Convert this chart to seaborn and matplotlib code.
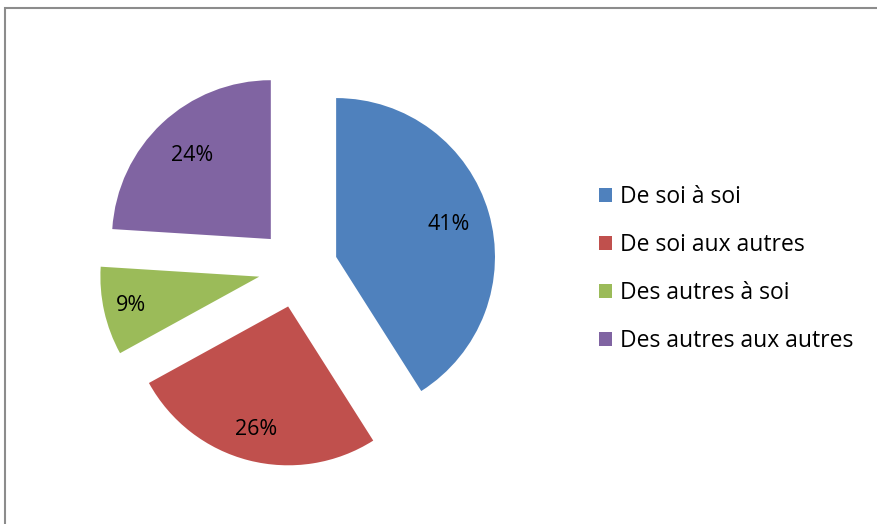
import matplotlib
matplotlib.use("Agg")
import matplotlib.pyplot as plt
from matplotlib.patches import Rectangle, Patch
import numpy as np
import seaborn as sns

categories = ["De soi à soi", "De soi aux autres", "Des autres à soi", "Des autres aux autres"]
values = [41, 26, 9, 24]
colors = ["#4F81BD", "#C0504D", "#9BBB59", "#8064A2"]
label_dist = [0.74, 0.80, 0.83, 0.72]

sns.set_theme(style="white")
plt.rcParams["font.family"] = ["Open Sans", "DejaVu Sans"]

W, H = 877, 524
fig = plt.figure(figsize=(W / 100, H / 100), dpi=100)
fig.patch.set_facecolor("white")

cx, cy, half = 298, 268, 220
ax = fig.add_axes([(cx - half) / W, (H - cy - half) / H, 2 * half / W, 2 * half / H])
wedges, texts, autotexts = ax.pie(
    values, colors=colors, startangle=90, counterclock=False,
    explode=[0.25] * len(values), autopct="%1.0f%%", pctdistance=0.77,
    textprops=dict(fontsize=15.5, color="black"),
    wedgeprops=dict(linewidth=0),
)
for w, t, d in zip(wedges, autotexts, label_dist):
    th = np.deg2rad((w.theta1 + w.theta2) / 2)
    x0, y0 = w.center
    t.set_position((x0 + d * w.r * np.cos(th), y0 + d * w.r * np.sin(th)))
ax.set_xlim(-1.385, 1.385)
ax.set_ylim(-1.385, 1.385)
ax.set_aspect("auto")
ax.axis("off")

handles = [Patch(facecolor=c, edgecolor="none") for c in colors]
fig.legend(handles, categories, loc="center left",
           bbox_to_anchor=(599 / W, 1 - 269 / H), frameon=False,
           fontsize=16.5, labelcolor="black", handlelength=0.55, handleheight=0.55,
           handletextpad=0.35, labelspacing=1.04, borderpad=0, borderaxespad=0)

fig.patches.append(Rectangle((5 / W, -0.1), 1.2, 1 - 8 / H + 0.1,
                             transform=fig.transFigure, fill=False,
                             edgecolor="#8c8c8c", linewidth=1.5, zorder=10))

fig.savefig("out.png", dpi=100, facecolor="white")
